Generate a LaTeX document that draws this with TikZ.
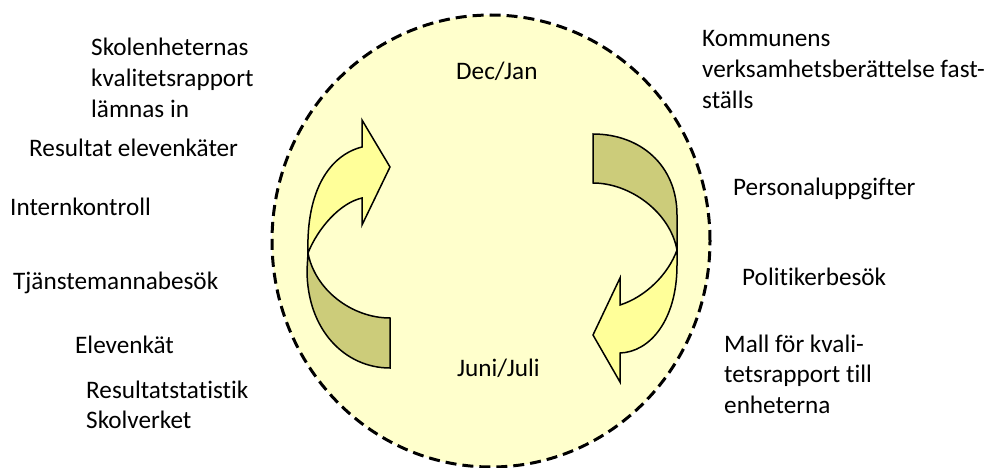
\documentclass[tikz,border=0pt]{standalone}
\usepackage{fontspec}
\setmainfont{Carlito}[Ligatures=NoCommon]
\definecolor{circfill}{HTML}{FFFFCC}
\definecolor{arrlight}{HTML}{FFFF99}
\definecolor{arrdark}{HTML}{CCCC7A}
\begin{document}
\begin{tikzpicture}[x=1pt,y=-1pt,
  txt/.style={font=\fontsize{25.2}{30.7}\selectfont, inner sep=0pt, anchor=base west},
  ring/.style={draw=black, fill=circfill, line width=3pt, dash pattern=on 11pt off 6pt},
  lightpart/.style={draw=black, fill=arrlight, line width=1.5pt, line join=miter},
  darkpart/.style={draw=black, fill=arrdark, line width=1.5pt, line join=miter}]
\useasboundingbox (0,0) rectangle (987,468);
% circle
\draw[ring] (491,241) ellipse [x radius=219pt, y radius=226pt];
% left curved arrow: dark lower part
\draw[darkpart] (308,253) -- (307,270) .. controls (307,330) and (345,368) .. (390,368)
  -- (390,318) .. controls (352,318) and (315,290) .. cycle;
% left curved arrow: light upper part with head
\draw[lightpart] (308,253) .. controls (306,190) and (330,155) .. (362,147)
  -- (362,120) -- (390,167) -- (362,225) -- (362,198)
  .. controls (340,203) and (318,228) .. cycle;
% right curved arrow: dark upper part
\draw[darkpart] (593,134) .. controls (640,134) and (677,165) .. (677,215)
  -- (677,250) .. controls (670,212) and (630,183) .. (593,183) -- cycle;
% right curved arrow: light lower part with head
\draw[lightpart] (677,250) -- (677,265) .. controls (677,320) and (650,352) .. (620,353)
  -- (620,382) -- (593,335) -- (620,278) -- (620,305)
  .. controls (645,297) and (668,275) .. cycle;
% labels inside
\node[txt] (dec) at (456,80) {Dec/Jan};
\node[txt] (juni) at (457,376) {Juni/Juli};
% left labels
\node[txt] (skol) at (91,56) {\vtop{\hbox{Skolenheternas}\hbox{kvalitetsrapport}\hbox{lämnas in}}};
\node[txt] (resel) at (29,157) {Resultat elevenkäter};
\node[txt] (intern) at (10,215) {Internkontroll};
\node[txt] (tjan) at (13,289) {Tjänstemannabesök};
\node[txt] (elev) at (75,353) {Elevenkät};
\node[txt] (resst) at (86,398) {\vtop{\hbox{Resultatstatistik}\hbox{Skolverket}}};
% right labels
\node[txt] (komm) at (702,47) {\vtop{\hbox{Kommunens}\hbox{verksamhetsberättelse fast-}\hbox{ställs}}};
\node[txt] (pers) at (733,195) {Personaluppgifter};
\node[txt] (polit) at (742,285) {Politikerbesök};
\node[txt] (mall) at (724,352) {\vtop{\hbox{Mall för kvali-}\hbox{tetsrapport till}\hbox{enheterna}}};
\end{tikzpicture}
\end{document}
